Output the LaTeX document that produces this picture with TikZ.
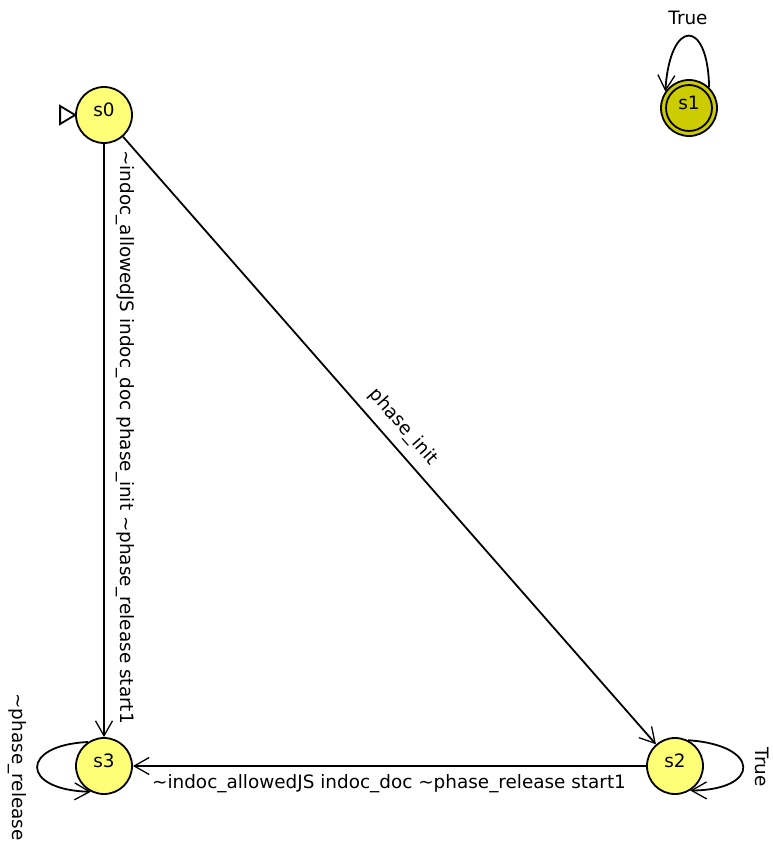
\documentclass[tikz,border=0pt]{standalone}
\usepackage{fontspec}
\setmainfont{DejaVu Sans}
\usetikzlibrary{arrows.meta}
\definecolor{stfill}{RGB}{255,255,119}
\definecolor{accfill}{RGB}{204,204,0}
\begin{document}
\begin{tikzpicture}[x=1pt,y=-1pt,
  state/.style={circle,draw,line width=1.8pt,fill=stfill,minimum size=56pt,inner sep=0pt},
  accstate/.style={state,fill=accfill},
  edge/.style={line width=1.8pt,-{Straight Barb[length=15pt,width=17pt,line width=1.3pt]}},
  lbl/.style={font=\fontsize{18.4}{22}\selectfont,inner sep=0pt},
  stlbl/.style={lbl,yshift=5pt}]
\useasboundingbox (0,0) rectangle (772,844);
\node[state,label={[stlbl]center:s0}] (s0) at (104,115) {};
\node[accstate] (s1) at (689,108) {};
\node[circle,draw,line width=1.8pt,minimum size=46pt,inner sep=0pt,label={[stlbl]center:s1}] (s1in) at (s1.center) {};
\node[state,label={[stlbl]center:s2}] (s2) at (675,766) {};
\node[state,label={[stlbl]center:s3}] (s3) at (104,766) {};
% initial marker
\draw[line width=1.8pt,fill=white] (s0.west) -- ++(-15,-9) -- ++(0,18) -- cycle;
% edges
\draw[edge] (s0) -- (s3);
\draw[edge] (s0) -- (s2);
\draw[edge] (s2) -- (s3);
\draw[edge] (s3.124) .. controls (20,745) and (20,790) .. (s3.243);
\draw[edge] (s2.63) .. controls (761,745) and (761,790) .. (s2.302);
\draw[edge] (s1.46) .. controls (708,18) and (670,18) .. (s1.145);
% labels
\node[lbl] (l11) at (688,18) {True};
\node[lbl,rotate=-90] (l03) at (125,437) {\textasciitilde indoc\_allowedJS indoc\_doc phase\_init \textasciitilde phase\_release start1};
\node[lbl,rotate=-48.7] (l02) at (403,427) {phase\_init};
\node[lbl] (l23) at (389,784) {\textasciitilde indoc\_allowedJS indoc\_doc \textasciitilde phase\_release start1};
\node[lbl,rotate=-90] (l33) at (17,767) {\textasciitilde phase\_release};
\node[lbl,rotate=-90] (l22) at (762,767) {True};
\end{tikzpicture}
\end{document}
